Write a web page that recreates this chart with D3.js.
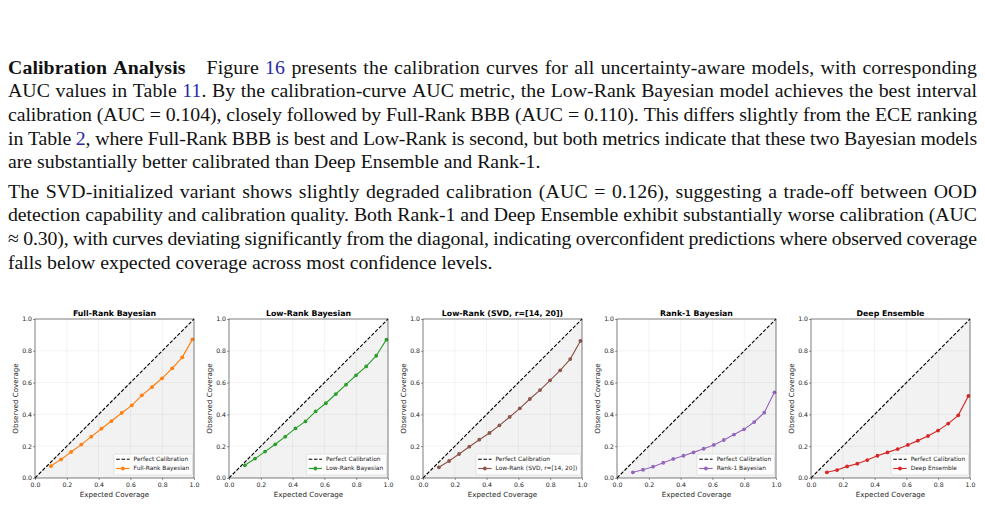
<!DOCTYPE html>
<html><head><meta charset="utf-8">
<script src="https://cdn.jsdelivr.net/npm/d3@7"></script>
<style>
body{margin:0;background:#fff;width:985px;height:505px;overflow:hidden;}
svg{position:absolute;left:0;top:0;}
</style></head><body>
<svg id="page" width="985" height="505"></svg>
<script>
// ---------- text content ----------
const para1Lines = [
 "**Calibration Analysis** QUAD Figure [[16]] presents the calibration curves for all uncertainty-aware models, with corresponding",
 "AUC values in Table [[11]]. By the calibration-curve AUC metric, the Low-Rank Bayesian model achieves the best interval",
 "calibration (AUC = 0.104), closely followed by Full-Rank BBB (AUC = 0.110). This differs slightly from the ECE ranking",
 "in Table [[2]], where Full-Rank BBB is best and Low-Rank is second, but both metrics indicate that these two Bayesian models",
 "are substantially better calibrated than Deep Ensemble and Rank-1."
];
const para2Lines = [
 "The SVD-initialized variant shows slightly degraded calibration (AUC = 0.126), suggesting a trade-off between OOD",
 "detection capability and calibration quality. Both Rank-1 and Deep Ensemble exhibit substantially worse calibration (AUC",
 "\u2248 0.30), with curves deviating significantly from the diagonal, indicating overconfident predictions where observed coverage",
 "falls below expected coverage across most confidence levels."
];

// ---------- chart data ----------
const expectedCoverage = [0.1, 0.164, 0.227, 0.291, 0.354, 0.418, 0.481, 0.545, 0.609, 0.672, 0.736, 0.799, 0.863, 0.926, 0.99];
const fullRankObserved = [0.075, 0.117, 0.164, 0.210, 0.260, 0.310, 0.358, 0.409, 0.457, 0.520, 0.572, 0.627, 0.690, 0.759, 0.872];
const lowRankObserved  = [0.080, 0.122, 0.166, 0.212, 0.260, 0.312, 0.356, 0.419, 0.470, 0.528, 0.587, 0.646, 0.702, 0.769, 0.870];
const svdObserved      = [0.067, 0.107, 0.151, 0.197, 0.241, 0.283, 0.331, 0.384, 0.438, 0.497, 0.553, 0.614, 0.677, 0.748, 0.862];
const rank1Observed    = [0.036, 0.052, 0.071, 0.096, 0.120, 0.140, 0.161, 0.184, 0.208, 0.239, 0.273, 0.306, 0.352, 0.411, 0.539];
const ensembleObserved = [0.036, 0.050, 0.073, 0.090, 0.113, 0.140, 0.161, 0.182, 0.208, 0.235, 0.264, 0.298, 0.342, 0.394, 0.516];
const panelTitles = ["Full-Rank Bayesian", "Low-Rank Bayesian", "Low-Rank (SVD, r=[14, 20])", "Rank-1 Bayesian", "Deep Ensemble"];
const seriesNames = ["Full-Rank Bayesian", "Low-Rank Bayesian", "Low-Rank (SVD, r=[14, 20])", "Rank-1 Bayesian", "Deep Ensemble"];
const seriesColors = ["#ff7f0e", "#2ca02c", "#8c564b", "#9467bd", "#d62728"];
const axisTicks = [0, 0.2, 0.4, 0.6, 0.8, 1.0];
const seriesValues = [fullRankObserved, lowRankObserved, svdObserved, rank1Observed, ensembleObserved];

const svg = d3.select("#page");

// ---------- paragraphs ----------
const textLeft = 8, textRight = 977, fs = 19.8, quadW = 21, refColor = "#2a2aa3";
const textG = svg.append("g").attr("font-family", "'Liberation Serif','Times New Roman',serif")
  .attr("font-size", fs).attr("fill", "#111");

function parseTokens(line){
  let bold = false, ref = false;
  return line.split(" ").map(tok => {
    if (tok === "QUAD") return {quad: true};
    const segs = []; let cur = ""; let i = 0;
    const push = () => { if (cur) { segs.push({t: cur, bold, ref}); cur = ""; } };
    while (i < tok.length) {
      if (tok.startsWith("**", i)) { push(); bold = !bold; i += 2; }
      else if (tok.startsWith("[[", i)) { push(); ref = true; i += 2; }
      else if (tok.startsWith("]]", i)) { push(); ref = false; i += 2; }
      else { cur += tok[i]; i++; }
    }
    push();
    return {segs};
  });
}
function drawLine(line, y, justify){
  const items = []; let quadNext = false;
  parseTokens(line).forEach(tk => {
    if (tk.quad) { quadNext = true; return; }
    const t = textG.append("text").attr("y", y);
    tk.segs.forEach(s => t.append("tspan").text(s.t)
      .attr("font-weight", s.bold ? "bold" : null)
      .attr("fill", s.ref ? refColor : null));
    items.push({el: t, w: t.node().getComputedTextLength(), n: tk.segs.reduce((a, s) => a + s.t.length, 0), quad: quadNext});
    quadNext = false;
  });
  const nGaps = items.filter((d, i) => i > 0 && !d.quad).length;
  const quads = items.filter(d => d.quad).length * quadW;
  if (justify) {
    // absorb font-metric differences partly in letter spacing
    const natural = d3.sum(items, d => d.w) + quads + nGaps * fs * 0.27;
    const extra = (textRight - textLeft) - natural;
    const ls = Math.max(-0.35, Math.min(0.35, extra * 0.5 / d3.sum(items, d => d.n)));
    items.forEach(it => { it.el.attr("letter-spacing", ls); it.w = it.el.node().getComputedTextLength(); });
  }
  const fixed = d3.sum(items, d => d.w) + quads;
  const gap = justify ? (textRight - textLeft - fixed) / nGaps : fs * 0.25;
  let x = textLeft;
  items.forEach((it, i) => { if (i > 0) x += it.quad ? quadW : gap; it.el.attr("x", x); x += it.w; });
}
const lineStep = 23.65;
para1Lines.forEach((l, i) => drawLine(l, 73.6 + i * lineStep, i < para1Lines.length - 1));
para2Lines.forEach((l, i) => drawLine(l, 197.6 + i * lineStep, i < para2Lines.length - 1));

// ---------- charts ----------
const size = 159, top0 = 319, left0 = 35, step = 194;
const x = d3.scaleLinear().domain([0, 1]).range([0, size]);
const y = d3.scaleLinear().domain([0, 1]).range([size, 0]);
const font = "'DejaVu Sans', Verdana, sans-serif";

seriesValues.forEach((vals, i) => {
  const g = svg.append("g").attr("transform", `translate(${left0 + i * step},${top0})`)
    .attr("font-family", font);
  // grid
  g.append("g").selectAll("line.v").data(axisTicks).join("line")
    .attr("x1", d => x(d)).attr("x2", d => x(d)).attr("y1", 0).attr("y2", size)
    .attr("stroke", "#b0b0b0").attr("stroke-opacity", 0.3).attr("stroke-width", 0.5);
  g.append("g").selectAll("line.h").data(axisTicks).join("line")
    .attr("y1", d => y(d)).attr("y2", d => y(d)).attr("x1", 0).attr("x2", size)
    .attr("stroke", "#b0b0b0").attr("stroke-opacity", 0.3).attr("stroke-width", 0.5);
  // shaded region under diagonal
  const area = d3.area().x(d => x(d)).y0(y(0)).y1(d => y(d));
  g.append("path").datum([0, 1]).attr("d", area).attr("fill", "gray").attr("fill-opacity", 0.1);
  // diagonal
  g.append("line").attr("x1", x(0)).attr("y1", y(0)).attr("x2", x(1)).attr("y2", y(1))
    .attr("stroke", "#000").attr("stroke-width", 1.1).attr("stroke-dasharray", "3.6,1.7");
  // series
  const pts = expectedCoverage.map((e, k) => [e, vals[k]]);
  g.append("path").datum(pts).attr("d", d3.line().x(d => x(d[0])).y(d => y(d[1])))
    .attr("fill", "none").attr("stroke", seriesColors[i]).attr("stroke-width", 1.15);
  g.append("g").selectAll("circle").data(pts).join("circle")
    .attr("cx", d => x(d[0])).attr("cy", d => y(d[1])).attr("r", 1.9).attr("fill", seriesColors[i]);
  // axes
  const xa = g.append("g").attr("transform", `translate(0,${size})`)
    .call(d3.axisBottom(x).tickValues(axisTicks).tickFormat(d3.format(".1f")).tickSize(2).tickPadding(2.2));
  const ya = g.append("g")
    .call(d3.axisLeft(y).tickValues(axisTicks).tickFormat(d3.format(".1f")).tickSize(2).tickPadding(1));
  [xa, ya].forEach(a => {
    a.select(".domain").remove();
    a.selectAll("line").attr("stroke", "#333").attr("stroke-width", 0.5);
    a.selectAll("text").attr("font-family", font).attr("font-size", 6.2).attr("fill", "#222");
  });
  g.append("rect").attr("width", size).attr("height", size).attr("fill", "none")
    .attr("stroke", "#333").attr("stroke-width", 0.6);
  // title & labels
  g.append("text").attr("x", size / 2).attr("y", -3.5).attr("text-anchor", "middle")
    .attr("font-weight", "bold").attr("font-size", 7.8).attr("fill", "#000").text(panelTitles[i]);
  g.append("text").attr("x", size / 2).attr("y", size + 18.5).attr("text-anchor", "middle")
    .attr("font-size", 7.1).attr("fill", "#222").text("Expected Coverage");
  g.append("text").attr("transform", `translate(-17.4,${size / 2}) rotate(-90)`).attr("text-anchor", "middle")
    .attr("font-size", 7.1).attr("fill", "#222").text("Observed Coverage");
  // legend
  const lg = g.append("g");
  const box = lg.append("rect").attr("rx", 1.2).attr("fill", "#fff").attr("fill-opacity", 0.8)
    .attr("stroke", "#cccccc").attr("stroke-width", 0.5);
  const t1 = lg.append("text").attr("font-size", 5.9).attr("fill", "#222").text("Perfect Calibration");
  const t2 = lg.append("text").attr("font-size", 5.9).attr("fill", "#222").text(seriesNames[i]);
  const tw = Math.max(t1.node().getComputedTextLength(), t2.node().getComputedTextLength());
  const bw = tw + 19.7 + 3.4, bh = 21;
  const bx = size - 1.4 - bw, by = size - 3 - bh;
  box.attr("x", bx).attr("y", by).attr("width", bw).attr("height", bh);
  t1.attr("x", bx + 19.7).attr("y", by + 7.1);
  t2.attr("x", bx + 19.7).attr("y", by + 16.4);
  lg.append("line").attr("x1", bx + 2.3).attr("x2", bx + 15.7).attr("y1", by + 5.2).attr("y2", by + 5.2)
    .attr("stroke", "#000").attr("stroke-width", 1.1).attr("stroke-dasharray", "3.6,1.7");
  lg.append("line").attr("x1", bx + 2.3).attr("x2", bx + 15.7).attr("y1", by + 14.5).attr("y2", by + 14.5)
    .attr("stroke", seriesColors[i]).attr("stroke-width", 1.15);
  lg.append("circle").attr("cx", bx + 9).attr("cy", by + 14.5).attr("r", 1.9).attr("fill", seriesColors[i]);
});
</script>
</body></html>
